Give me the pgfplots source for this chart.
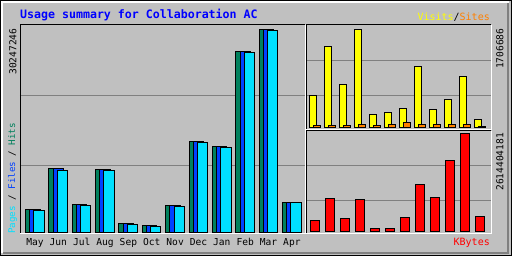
\documentclass[border=0pt]{standalone}
\usepackage{pgfplots}
\pgfplotsset{compat=1.18}
\usepackage{fontspec}
\setmainfont{DejaVu Sans Mono}
\definecolor{bg}{HTML}{C0C0C0}
\definecolor{gridc}{HTML}{808080}
\definecolor{hitsc}{HTML}{00805C}
\definecolor{filesc}{HTML}{0040FF}
\definecolor{pagesc}{HTML}{00E0FF}
\definecolor{visitsc}{HTML}{FFFF00}
\definecolor{sitesc}{HTML}{FF8000}
\definecolor{kbc}{HTML}{FF0000}
\definecolor{titlec}{HTML}{0000FF}
\pgfplotsset{panel/.style={scale only axis, anchor=south west,
  axis line style={draw=none}, major tick length=0pt,
  ymajorgrids, grid style={gridc, line width=1pt},
  yticklabels={}, scaled y ticks=false, ybar,
  every axis plot/.append style={draw=black, line width=1pt}}}
\begin{document}
\begin{tikzpicture}[x=1pt,y=1pt]
\path[use as bounding box] (0,0) rectangle (512,256);
\fill[black] (0,0) rectangle (512,256);
\fill[bg] (1,1) rectangle (511,255);
\draw[white, line width=2pt] (2,3) -- (2,254) -- (509,254);
\draw[gridc, line width=2pt] (3,3) -- (508,3) -- (508,253);
% panels
\begin{axis}[panel, at={(20pt,23pt)}, width=285pt, height=208pt,
  xmin=-0.64, xmax=11.56, ymin=0, ymax=30.9e6,
  ytick={9.97e6,20.38e6},
  xtick={0,...,11},
  xticklabels={May,Jun,Jul,Aug,Sep,Oct,Nov,Dec,Jan,Feb,Mar,Apr},
  xticklabel style={anchor=base, yshift=-13pt, font=\fontsize{9.6}{10}\selectfont}]
\addplot[fill=hitsc, bar width=10.3pt, bar shift=-4.3pt] coordinates {
(0,3520000) (1,9570000) (2,4210000) (3,9420000) (4,1440000) (5,1090000)
(6,4070000) (7,13590000) (8,12840000) (9,26970000) (10,30247246) (11,4510000)};
\addplot[fill=filesc, bar width=10.3pt, bar shift=0pt] coordinates {
(0,3500000) (1,9530000) (2,4190000) (3,9380000) (4,1430000) (5,1080000)
(6,4050000) (7,13550000) (8,12800000) (9,26930000) (10,30200000) (11,4505000)};
\addplot[fill=pagesc, bar width=10.3pt, bar shift=4.05pt] coordinates {
(0,3370000) (1,9270000) (2,4060000) (3,9270000) (4,1290000) (5,940000)
(6,3920000) (7,13440000) (8,12690000) (9,26820000) (10,30100000) (11,4500000)};
\end{axis}
\begin{axis}[panel, at={(305pt,126pt)}, width=186pt, height=105pt,
  xmin=-0.527, xmax=11.873, ymin=-40500, ymax=1782000,
  ytick={555000,1169000}, xtick=\empty]
\addplot[fill=visitsc, bar width=6.7pt, bar shift=0pt] coordinates {
(0,561000) (1,1417000) (2,752000) (3,1706686) (4,231000) (5,266000)
(6,336000) (7,1065000) (8,307000) (9,492000) (10,891000) (11,145000)};
\addplot[fill=sitesc, bar width=6.3pt, bar shift=4.2pt] coordinates {
(0,40000) (1,40000) (2,40000) (3,58000) (4,40000) (5,58000)
(6,93000) (7,58000) (8,58000) (9,58000) (10,58000) (11,17000)};
\end{axis}
\begin{axis}[panel, at={(305pt,23pt)}, width=186pt, height=103pt,
  xmin=-0.667, xmax=11.733, ymin=-26600000, ymax=2720700000,
  ytick={850800000,1772500000}, xtick=\empty]
\addplot[fill=kbc, bar width=8.7pt, bar shift=0pt] coordinates {
(0,301000000) (1,886000000) (2,354000000) (3,860000000) (4,89000000) (5,89000000)
(6,381000000) (7,1258000000) (8,913000000) (9,1897000000) (10,2614404181) (11,408000000)};
\end{axis}
% panel borders
\draw[black, line width=1pt] (20,22.5) -- (20,231) -- (305,231);
\draw[white, line width=1pt] (20,22.5) -- (305,22.5) -- (305,231);
\draw[black, line width=1pt] (306,126.5) -- (306,231) -- (491,231);
\draw[white, line width=1pt] (306,126) -- (491,126) -- (491,231);
\draw[black, line width=1pt] (306,22.5) -- (306,125) -- (491,125);
\draw[white, line width=1pt] (306,22.5) -- (491,22.5) -- (491,125);
% texts
\node[anchor=base west, inner sep=0, text=titlec, font=\fontsize{11.6}{12}\selectfont\bfseries] at (20,237) {Usage summary for Collaboration AC};
\node[anchor=base east, inner sep=0, font=\fontsize{10}{12}\selectfont] at (490,235.3) {\textcolor{visitsc}{Visits}/\textcolor{sitesc}{Sites}};
\node[anchor=base east, inner sep=0, text=kbc, font=\fontsize{10}{12}\selectfont] at (490,10) {KBytes};
\node[rotate=90, anchor=east, inner sep=0, font=\fontsize{9.6}{12}\selectfont] at (13,227.7) {30247246};
\node[rotate=90, anchor=west, inner sep=0, font=\fontsize{9.2}{12}\selectfont] at (12.5,22) {\textcolor{pagesc}{Pages} / \textcolor{filesc}{Files} / \textcolor{hitsc}{Hits}};
\node[rotate=90, anchor=east, inner sep=0, font=\fontsize{9.6}{12}\selectfont] at (500,227.7) {1706686};
\node[rotate=90, anchor=east, inner sep=0, font=\fontsize{9.6}{12}\selectfont] at (500,123.3) {2614404181};
\end{tikzpicture}
\end{document}
